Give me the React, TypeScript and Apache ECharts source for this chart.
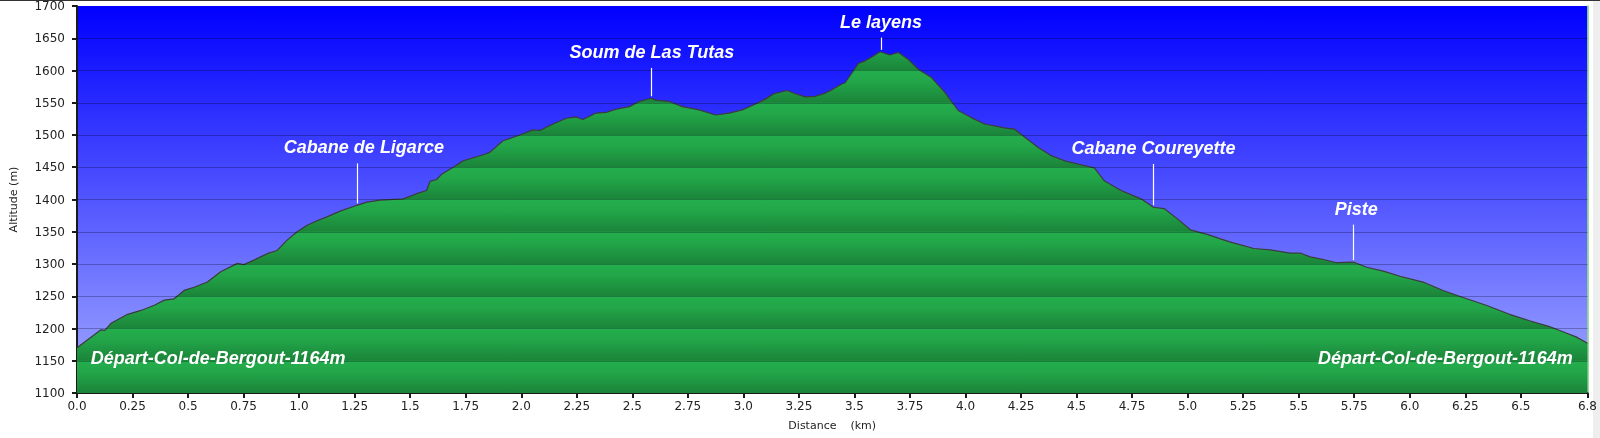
import React, { useEffect, useRef } from "react";
import * as echarts from "echarts";

// Elevation profile (distance in km, altitude in m)
const distanceKm = [
  0.0, 0.108, 0.125, 0.153, 0.228, 0.288, 0.348, 0.393, 0.437, 0.482, 0.527, 0.587, 0.647, 0.722, 0.751,
  0.796, 0.856, 0.901, 0.946, 0.991, 1.036, 1.081, 1.125, 1.185, 1.26, 1.305, 1.365, 1.469, 1.529, 1.574,
  1.589, 1.619, 1.641, 1.694, 1.739, 1.843, 1.858, 1.918, 1.993, 2.053, 2.083, 2.143, 2.203, 2.248, 2.277,
  2.337, 2.382, 2.427, 2.487, 2.531, 2.584, 2.606, 2.666, 2.726, 2.801, 2.875, 2.935, 2.995, 3.055, 3.1,
  3.137, 3.197, 3.234, 3.279, 3.324, 3.369, 3.398, 3.443, 3.458, 3.518, 3.548, 3.578, 3.615, 3.66, 3.698,
  3.743, 3.787, 3.847, 3.907, 3.967, 4.026, 4.086, 4.176, 4.221, 4.266, 4.326, 4.386, 4.446, 4.505, 4.58,
  4.625, 4.7, 4.79, 4.846, 4.894, 4.954, 5.013, 5.088, 5.148, 5.193, 5.298, 5.372, 5.462, 5.507, 5.552,
  5.612, 5.671, 5.746, 5.806, 5.881, 5.956, 6.06, 6.15, 6.24, 6.344, 6.449, 6.539, 6.629, 6.704, 6.749, 6.8,
];
const altitudeM = [
  1170, 1198, 1197, 1208, 1222, 1228, 1236, 1244, 1246, 1259, 1264, 1272, 1288, 1301, 1299,
  1306, 1316, 1321, 1337, 1350, 1360, 1367, 1373, 1382, 1391, 1396, 1399, 1401, 1409, 1414,
  1428, 1431, 1439, 1450, 1460, 1471, 1473, 1491, 1500, 1508, 1507, 1517, 1526, 1528, 1524,
  1534, 1535, 1540, 1544, 1552, 1557, 1554, 1552, 1544, 1539, 1531, 1534, 1539, 1548, 1556,
  1564, 1569, 1564, 1559, 1560, 1565, 1570, 1579, 1581, 1611, 1615, 1621, 1629, 1624, 1628,
  1617, 1602, 1589, 1566, 1538, 1527, 1517, 1511, 1509, 1497, 1481, 1468, 1460, 1455, 1449,
  1429, 1414, 1401, 1388, 1386, 1370, 1353, 1346, 1339, 1334, 1324, 1322, 1317, 1317, 1311,
  1307, 1302, 1303, 1295, 1289, 1281, 1272, 1259, 1248, 1236, 1222, 1212, 1203, 1193, 1187, 1177,
];

const yTicks = [1100, 1150, 1200, 1250, 1300, 1350, 1400, 1450, 1500, 1550, 1600, 1650, 1700];
const xTickValues = [
  0, 0.25, 0.5, 0.75, 1, 1.25, 1.5, 1.75, 2, 2.25, 2.5, 2.75, 3, 3.25, 3.5, 3.75, 4, 4.25, 4.5, 4.75,
  5, 5.25, 5.5, 5.75, 6, 6.25, 6.5, 6.8,
];
const xTickLabels = [
  "0.0", "0.25", "0.5", "0.75", "1.0", "1.25", "1.5", "1.75", "2.0", "2.25", "2.5", "2.75", "3.0", "3.25",
  "3.5", "3.75", "4.0", "4.25", "4.5", "4.75", "5.0", "5.25", "5.5", "5.75", "6.0", "6.25", "6.5", "6.8",
];

// Points of interest
const poiNames = ["Cabane de Ligarce", "Soum de Las Tutas", "Le layens", "Cabane Coureyette", "Piste"];
const poiKm = [1.26, 2.584, 3.62, 4.846, 5.746];
const poiAlt = [1391, 1557, 1629, 1388, 1303];
const poiStemM = [62, 44, 19, 64, 55];

const startLabel = "Départ-Col-de-Bergout-1164m";
const startLabelKm = [0.635, 6.16];
const startLabelAlt = [1155, 1155];

export default function App() {
  const ref = useRef<HTMLDivElement>(null);

  useEffect(() => {
    const chart = echarts.init(ref.current as HTMLDivElement, null, { renderer: "svg" });
    const axisFont = "'DejaVu Sans', Verdana, sans-serif";
    const labelFont = "'Liberation Sans', Arial, sans-serif";
    // small horizontal nudges of some annotation texts (style only)
    const labelNudge: Record<string, number> = { "Cabane de Ligarce": 7, Piste: 3, "Soum de Las Tutas": 1 };

    const makePoiLabel = (name: string) => ({
      show: true,
      position: "end",
      distance: 7,
      formatter: "{b}",
      offset: [labelNudge[name] || 0, 0],
      color: "#ffffff",
      fontFamily: labelFont,
      fontSize: 18,
      fontWeight: "bold",
      fontStyle: "italic",
    });
    const poiLineStyle = { color: "#ffffff", width: 1.2, type: "solid" };

    const gridLines = yTicks.slice(1, -1).map((v) => ({
      yAxis: v,
      label: { show: false },
      lineStyle: { color: "rgba(0,0,20,0.28)", width: 1, type: "solid" },
    }));
    const poiLines = poiNames.map((name, i) => [
      {
        name,
        coord: [poiKm[i], poiAlt[i] + 3],
        lineStyle: poiLineStyle,
        label: makePoiLabel(name),
      },
      {
        coord: [poiKm[i], poiAlt[i] + 3 + poiStemM[i]],
        lineStyle: poiLineStyle,
        label: makePoiLabel(name),
      },
    ]);

    const option: any = {
      animation: false,
      grid: {
        left: 73,
        right: 12,
        top: 5,
        bottom: 45,
        show: true,
        borderWidth: 0,
        backgroundColor: new echarts.graphic.LinearGradient(0, 0, 0, 1, [
          { offset: 0, color: "#0000ff" },
          { offset: 1, color: "#a3abff" },
        ]),
      },
      graphic: [
        { type: "rect", left: 0, top: 0, shape: { width: 1600, height: 1 }, style: { fill: "#333333" }, silent: true },
        { type: "rect", right: 0, top: 1, shape: { width: 7, height: 437 }, style: { fill: "#eeeeee" }, silent: true },
      ],
      xAxis: {
        type: "value",
        min: 0,
        max: 6.8,
        name: "Distance    (km)",
        nameLocation: "middle",
        nameGap: 27,
        nameTextStyle: { fontFamily: axisFont, fontSize: 11, color: "#222222" },
        axisLine: { show: true, lineStyle: { color: "#1a1a1a", width: 2 } },
        axisTick: { show: true, length: 5, lineStyle: { color: "#1a1a1a", width: 2 }, customValues: xTickValues },
        axisLabel: {
          customValues: xTickValues,
          margin: 7,
          fontFamily: axisFont,
          fontSize: 12,
          color: "#222222",
          formatter: (v: number) => {
            const idx = xTickValues.findIndex((t) => Math.abs(t - v) < 1e-6);
            return idx >= 0 ? xTickLabels[idx] : "";
          },
        },
        splitLine: { show: false },
      },
      yAxis: [
        {
          type: "value",
          min: yTicks[0],
          max: yTicks[yTicks.length - 1],
          interval: 50,
          name: "Altitude (m)",
          nameLocation: "middle",
          nameGap: 58,
          nameTextStyle: { fontFamily: axisFont, fontSize: 11, color: "#222222" },
          axisLine: { show: true, lineStyle: { color: "#1a1a1a", width: 2 } },
          axisTick: { show: true, length: 5, lineStyle: { color: "#1a1a1a", width: 2 } },
          axisLabel: {
            margin: 12,
            fontFamily: axisFont,
            fontSize: 12,
            color: "#222222",
            formatter: (v: number) => String(v),
          },
          splitLine: { show: false },
        },
        {
          type: "value",
          position: "right",
          min: yTicks[0],
          max: yTicks[yTicks.length - 1],
          axisLine: { show: true, lineStyle: { color: "#7fd27f", width: 1.5 } },
          axisTick: { show: false },
          axisLabel: { show: false },
          splitLine: { show: false },
        },
      ],
      series: [
        {
          id: "profile",
          type: "line",
          data: distanceKm.map((d, i) => [d, altitudeM[i]]),
          showSymbol: false,
          symbol: "none",
          sampling: "none",
          lineStyle: { color: "#3c3c3c", width: 1.2 },
          areaStyle: { color: "#22a84a", origin: "start", opacity: 1 },
          markLine: {
            silent: true,
            symbol: ["none", "none"],
            animation: false,
            data: [...gridLines, ...poiLines],
          },
          markPoint: {
            silent: true,
            animation: false,
            symbol: "circle",
            symbolSize: 1,
            itemStyle: { color: "rgba(0,0,0,0)" },
            label: {
              show: true,
              position: "inside",
              formatter: "{b}",
              color: "#ffffff",
              fontFamily: labelFont,
              fontSize: 18,
              fontWeight: "bold",
              fontStyle: "italic",
            },
            data: startLabelKm.map((k, i) => ({ name: startLabel, coord: [k, startLabelAlt[i]] })),
          },
        },
      ],
    };

    chart.setOption(option);

    // Striped green fill aligned with the 50 m grid bands
    const yTopPx = chart.convertToPixel({ yAxisIndex: 0 }, yTicks[yTicks.length - 1]) as number;
    const yBottomPx = chart.convertToPixel({ yAxisIndex: 0 }, yTicks[0]) as number;
    const n = yTicks.length - 1;
    const stops: { offset: number; color: string }[] = [];
    for (let k = 0; k < n; k++) {
      const a = k / n;
      const b = (k + 1) / n;
      stops.push({ offset: a, color: "#24ae4d" });
      stops.push({ offset: a + (b - a) * 0.35, color: "#22a649" });
      stops.push({ offset: b - 0.0008, color: "#1b8439" });
    }
    chart.setOption({
      series: [
        {
          id: "profile",
          areaStyle: {
            color: new echarts.graphic.LinearGradient(0, yTopPx, 0, yBottomPx, stops, true),
            origin: "start",
            opacity: 1,
          },
        },
      ],
    });

    return () => chart.dispose();
  }, []);

  return <div ref={ref} style={{ position: "fixed", left: 0, top: 0, width: 1600, height: 438 }} />;
}
